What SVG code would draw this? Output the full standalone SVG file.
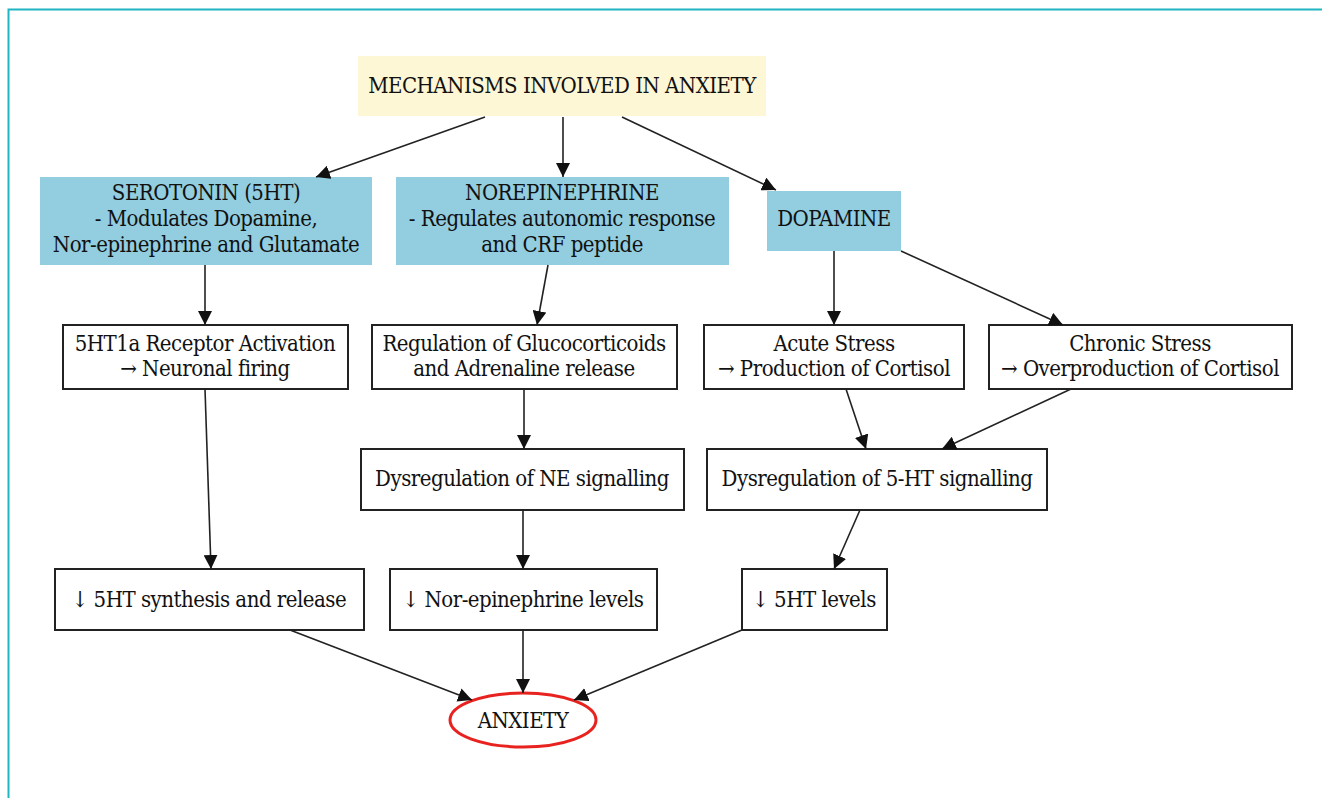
<svg xmlns="http://www.w3.org/2000/svg" width="1322" height="798" viewBox="0 0 1322 798">
<defs>
<marker id="ah" viewBox="0 0 10 10" refX="10" refY="5" markerWidth="14" markerHeight="14" markerUnits="userSpaceOnUse" orient="auto">
<path d="M0,0 L10,5 L0,10 z" fill="#111"/>
</marker>
<style>
text{font-family:'DejaVu Serif Condensed','DejaVu Serif','Liberation Serif',serif;font-stretch:condensed;font-size:22px;letter-spacing:-0.5px;fill:#111;text-anchor:middle;dominant-baseline:central}
.blue{fill:#92cde0}
.box{fill:#fff;stroke:#222;stroke-width:2}
.edge{stroke:#222;stroke-width:1.6;fill:none;marker-end:url(#ah)}
</style>
</defs>
<rect width="1322" height="798" fill="#fff"/>
<path d="M8.5,798 V9.5 H1322" fill="none" stroke="#1fb5c1" stroke-width="2"/>

<g id="title"><rect x="358" y="56" width="408" height="60" fill="#fdf7d6"/><text x="562" y="85">MECHANISMS INVOLVED IN ANXIETY</text></g>
<g id="serotonin"><rect class="blue" x="40" y="177" width="332" height="88"/><text x="206" y="192">SEROTONIN (5HT)</text><text x="206" y="218">- Modulates Dopamine,</text><text x="206" y="244">Nor-epinephrine and Glutamate</text></g>
<g id="norepinephrine"><rect class="blue" x="396" y="177" width="333" height="88"/><text x="562" y="192">NOREPINEPHRINE</text><text x="562" y="218">- Regulates autonomic response</text><text x="562" y="244">and CRF peptide</text></g>
<g id="dopamine"><rect class="blue" x="767" y="191" width="134" height="60"/><text x="834" y="218">DOPAMINE</text></g>

<g id="receptor"><rect class="box" x="63" y="325" width="285" height="64"/><text x="205" y="343">5HT1a Receptor Activation</text><text x="205" y="368">→ Neuronal firing</text></g>
<g id="regulation"><rect class="box" x="372" y="325" width="305" height="64"/><text x="524" y="343">Regulation of Glucocorticoids</text><text x="524" y="368">and Adrenaline release</text></g>
<g id="acute"><rect class="box" x="704" y="325" width="260" height="64"/><text x="834" y="343">Acute Stress</text><text x="834" y="368">→ Production of Cortisol</text></g>
<g id="chronic"><rect class="box" x="989" y="325" width="303" height="64"/><text x="1140" y="343">Chronic Stress</text><text x="1140" y="368">→ Overproduction of Cortisol</text></g>

<g id="dysNE"><rect class="box" x="361" y="449" width="323" height="61"/><text x="522" y="478">Dysregulation of NE signalling</text></g>
<g id="dys5HT"><rect class="box" x="707" y="449" width="340" height="61"/><text x="877" y="478">Dysregulation of 5-HT signalling</text></g>

<g id="synth"><rect class="box" x="55" y="569" width="309" height="61"/><text x="209" y="599">↓ 5HT synthesis and release</text></g>
<g id="nelevels"><rect class="box" x="390" y="569" width="267" height="61"/><text x="523" y="599">↓ Nor-epinephrine levels</text></g>
<g id="htlevels"><rect class="box" x="742" y="569" width="145" height="61"/><text x="814" y="599">↓ 5HT levels</text></g>

<g id="anxiety"><ellipse cx="523" cy="720" rx="73" ry="27" fill="#fff" stroke="#e8231f" stroke-width="3"/><text x="523" y="720">ANXIETY</text></g>

<g id="connectors">
<line class="edge" x1="485" y1="117" x2="316" y2="177"/>
<line class="edge" x1="563" y1="117" x2="563" y2="177"/>
<line class="edge" x1="622" y1="117" x2="776" y2="190"/>
<line class="edge" x1="205" y1="265" x2="205" y2="325"/>
<line class="edge" x1="548" y1="265" x2="537" y2="325"/>
<line class="edge" x1="834" y1="251" x2="834" y2="325"/>
<line class="edge" x1="901" y1="251" x2="1063" y2="325"/>
<line class="edge" x1="205" y1="389" x2="211" y2="569"/>
<line class="edge" x1="524" y1="389" x2="524" y2="449"/>
<line class="edge" x1="846" y1="389" x2="866" y2="449"/>
<line class="edge" x1="1071" y1="389" x2="942" y2="449"/>
<line class="edge" x1="523" y1="510" x2="523" y2="569"/>
<line class="edge" x1="860" y1="510" x2="834" y2="569"/>
<line class="edge" x1="290" y1="630" x2="472" y2="700"/>
<line class="edge" x1="523" y1="630" x2="523" y2="693"/>
<line class="edge" x1="742" y1="630" x2="574" y2="700"/>
</g>
</svg>
